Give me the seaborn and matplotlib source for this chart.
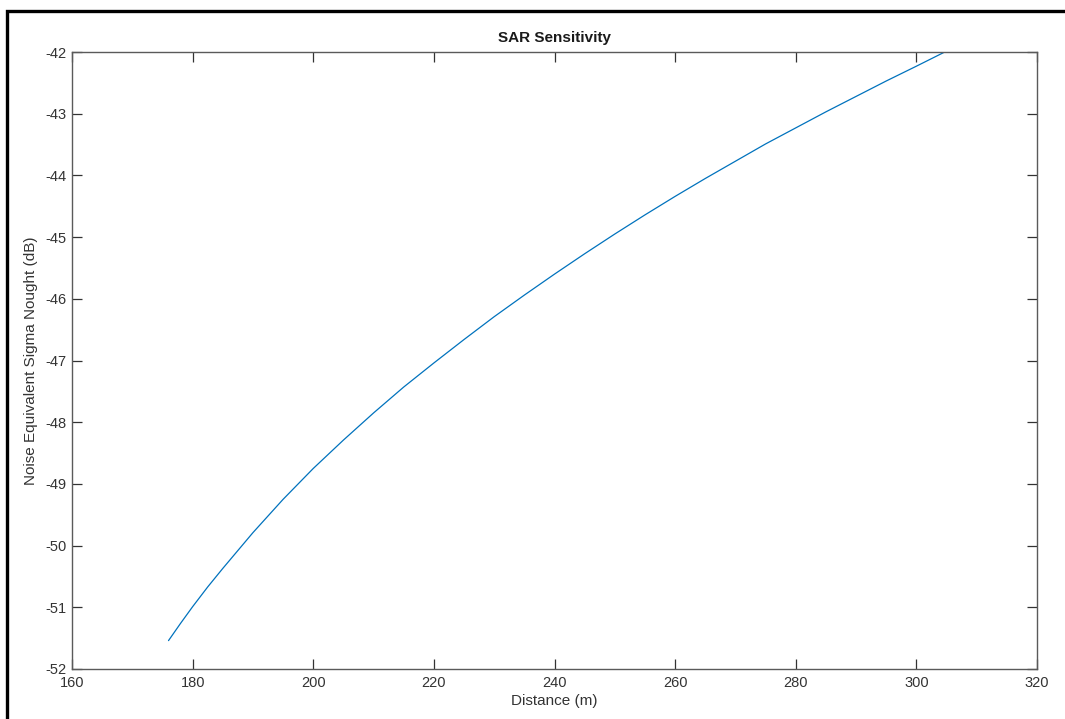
import matplotlib
matplotlib.use("Agg")
import matplotlib.pyplot as plt
from matplotlib.patches import Rectangle
import seaborn as sns
import pandas as pd

distance_m = [176.0, 178, 180, 182.5, 185, 190, 195, 200, 205, 210, 215, 220, 225, 230, 235, 240,
              245, 250, 255, 260, 265, 270, 275, 280, 285, 290, 295, 300, 304.5]
nesz_db = [-51.54, -51.26, -50.99, -50.67, -50.37, -49.79, -49.25, -48.75, -48.29, -47.85,
           -47.43, -47.04, -46.66, -46.29, -45.94, -45.60, -45.27, -44.95, -44.64, -44.34,
           -44.05, -43.77, -43.49, -43.23, -42.97, -42.72, -42.47, -42.23, -42.01]
x_ticks = [160, 180, 200, 220, 240, 260, 280, 300, 320]
y_ticks = [-52, -51, -50, -49, -48, -47, -46, -45, -44, -43, -42]

sns.set_theme(style="white")
plt.rcParams["font.family"] = ["Liberation Sans", "DejaVu Sans"]

df = pd.DataFrame({"Distance (m)": distance_m, "NESZ": nesz_db})

fig = plt.figure(figsize=(10.65, 7.19), dpi=100)
ax = fig.add_axes([72 / 1065, 1 - 669 / 719, (1037 - 72) / 1065, (669 - 52) / 719])

sns.lineplot(data=df, x="Distance (m)", y="NESZ", ax=ax, color="#0072BD",
             linewidth=0.9, sort=False)

ax.set_xlim(160, 320)
ax.set_ylim(-52, -42)
ax.set_xticks(x_ticks)
ax.set_yticks(y_ticks)
ax.set_xticklabels([str(v) for v in x_ticks])
ax.set_yticklabels([str(v) for v in y_ticks])

spine_col = "#5a5a5a"
for s in ax.spines.values():
    s.set_color(spine_col)
    s.set_linewidth(1.0)
    s.set_visible(True)

ax.tick_params(axis="both", which="major", direction="in", length=7, width=0.9,
               color="#333333", labelsize=10.5, labelcolor="#333333",
               top=True, right=True, bottom=True, left=True)
ax.tick_params(axis="x", pad=5)
ax.tick_params(axis="y", pad=4)

ax.set_title("SAR Sensitivity", fontsize=11, fontweight="bold", color="#1a1a1a", pad=7)
ax.set_xlabel("Distance (m)", fontsize=11, color="#333333", labelpad=3)
ax.set_ylabel("Noise Equivalent Sigma Nought (dB)", fontsize=11, color="#333333", labelpad=5)
ax.grid(False)

# outer frame (cut off at right and bottom like in the reference)
frame = Rectangle((7 / 1065, -0.1), 1.2, (1 - 11 / 719) + 0.1, transform=fig.transFigure,
                  fill=False, edgecolor="black", linewidth=2.4, clip_on=False)
fig.patches.append(frame)

fig.savefig("out.png", dpi=100)
